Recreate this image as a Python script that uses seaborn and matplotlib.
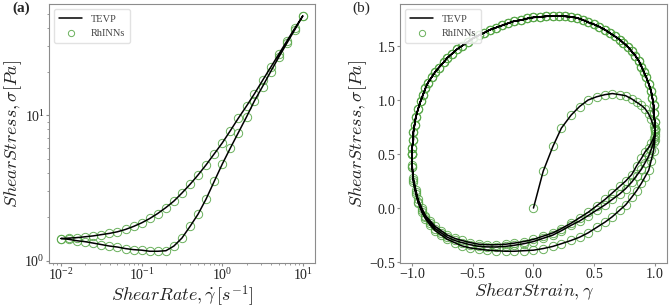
import matplotlib
matplotlib.use("Agg")
import pandas as pd
import seaborn as sns
import matplotlib.pyplot as plt

# ---- (a) flow curve, up-sweep then down-sweep ----
rate = [0.01, 0.0126, 0.0158, 0.02, 0.0251, 0.0316, 0.0398, 0.0501, 0.0631, 0.0794,
        0.1, 0.126, 0.158, 0.2, 0.251, 0.316, 0.398, 0.501, 0.631, 0.794,
        1.0, 1.26, 1.58, 2.0, 2.51, 3.16, 3.98, 5.01, 6.31, 7.94, 10.0]
stress_up = [1.42, 1.40, 1.37, 1.35, 1.32, 1.29, 1.26, 1.24, 1.21, 1.19,
             1.18, 1.16, 1.16, 1.17, 1.26, 1.43, 1.72, 2.09, 2.66, 3.51,
             4.62, 5.96, 7.59, 9.77, 12.6, 15.8, 20.0, 25.1, 31.3, 38.9, 48.5]
stress_down = [1.42, 1.43, 1.44, 1.46, 1.48, 1.51, 1.54, 1.58, 1.64, 1.72,
               1.82, 1.95, 2.11, 2.32, 2.57, 2.92, 3.35, 3.89, 4.57, 5.43,
               6.46, 7.85, 9.55, 11.6, 14.1, 17.4, 21.4, 26.3, 32.4, 39.8, 48.5]

# ---- (b) LAOS stress-strain loop ----
rise_strain = [0.00, 0.08, 0.16, 0.23, 0.31, 0.38, 0.45, 0.52, 0.59, 0.65, 0.71,
               0.76, 0.81, 0.85, 0.89, 0.92, 0.95, 0.97, 0.99, 1.00, 1.00]
rise_stress = [0.00, 0.34, 0.57, 0.74, 0.86, 0.94, 1.00, 1.03, 1.05, 1.06, 1.05,
               1.04, 1.01, 0.98, 0.95, 0.92, 0.87, 0.82, 0.76, 0.73, 0.71]

down_strain = [1.00, 1.00, 0.99, 0.97, 0.95, 0.92, 0.89, 0.85, 0.81, 0.76, 0.71,
               0.65, 0.59, 0.52, 0.45, 0.38, 0.31, 0.23, 0.16, 0.08, 0.00,
               -0.08, -0.16, -0.23, -0.31, -0.38, -0.45, -0.52, -0.59, -0.65, -0.71,
               -0.76, -0.81, -0.85, -0.89, -0.92, -0.95, -0.97, -0.99, -1.00, -1.00]
outer_stress = [0.71, 0.63, 0.53, 0.44, 0.35, 0.29, 0.23, 0.16, 0.10, 0.03, -0.02,
                -0.08, -0.13, -0.18, -0.23, -0.27, -0.30, -0.33, -0.355, -0.375, -0.39,
                -0.395, -0.40, -0.40, -0.395, -0.39, -0.38, -0.37, -0.35, -0.32, -0.29,
                -0.25, -0.21, -0.16, -0.10, -0.04, 0.05, 0.13, 0.24, 0.38, 0.50]
middle_stress = [0.73, 0.67, 0.61, 0.54, 0.48, 0.42, 0.36, 0.30, 0.24, 0.18, 0.13,
                 0.08, 0.03, -0.02, -0.07, -0.12, -0.16, -0.21, -0.25, -0.28, -0.31,
                 -0.33, -0.345, -0.355, -0.36, -0.36, -0.355, -0.34, -0.32, -0.30, -0.27,
                 -0.23, -0.19, -0.14, -0.08, -0.02, 0.06, 0.15, 0.26, 0.38, 0.50]
inner_stress = [0.73, 0.69, 0.65, 0.60, 0.56, 0.52, 0.46, 0.39, 0.31, 0.25, 0.20,
                0.14, 0.08, 0.02, -0.04, -0.09, -0.14, -0.19, -0.23, -0.26, -0.29,
                -0.31, -0.325, -0.335, -0.34, -0.34, -0.335, -0.32, -0.30, -0.28, -0.25,
                -0.21, -0.17, -0.12, -0.07, 0.00, 0.08, 0.17, 0.28, 0.40, 0.50]

top_strain = [-1.00, -1.00, -0.99, -0.99, -0.98, -0.97, -0.95, -0.93, -0.91, -0.89,
              -0.87, -0.84, -0.81, -0.78, -0.74, -0.71, -0.67, -0.63, -0.59, -0.54,
              -0.50, -0.45, -0.41, -0.36, -0.31, -0.26, -0.21, -0.16, -0.10, -0.05,
              0.00, 0.05, 0.10, 0.16, 0.21, 0.26, 0.31, 0.36, 0.41, 0.45,
              0.50, 0.54, 0.59, 0.63, 0.67, 0.71, 0.74, 0.78, 0.81, 0.84,
              0.87, 0.89, 0.91, 0.93, 0.95, 0.97, 0.98, 0.99, 0.99, 1.00, 1.00]
top_stress = [0.50, 0.56, 0.63, 0.70, 0.77, 0.84, 0.92, 0.99, 1.05, 1.11,
              1.16, 1.21, 1.26, 1.30, 1.35, 1.39, 1.43, 1.47, 1.50, 1.54,
              1.57, 1.60, 1.62, 1.65, 1.67, 1.69, 1.71, 1.73, 1.74, 1.755,
              1.765, 1.77, 1.775, 1.78, 1.78, 1.775, 1.77, 1.76, 1.74, 1.72,
              1.70, 1.68, 1.65, 1.62, 1.59, 1.56, 1.53, 1.49, 1.45, 1.41,
              1.36, 1.31, 1.26, 1.21, 1.15, 1.08, 1.02, 0.95, 0.88, 0.80, 0.73]

GREEN = "#5aa84a"

flow = pd.DataFrame({"rate": rate + rate[::-1],
                     "stress": stress_up + stress_down[::-1]})

segments = [(rise_strain, rise_stress), (down_strain, outer_stress),
            (top_strain, top_stress), (down_strain, middle_stress),
            (top_strain, top_stress), (down_strain, inner_stress),
            (top_strain, top_stress)]
laos = pd.DataFrame({"strain": [v for s, _ in segments for v in s],
                     "stress": [v for _, s in segments for v in s]})

sns.set_style("ticks")
plt.rcParams.update({
    "font.family": ["Liberation Serif", "DejaVu Serif"],
    "mathtext.fontset": "cm",
    "axes.formatter.use_mathtext": True,
    "axes.edgecolor": "#8c8c8c",
    "axes.linewidth": 0.8,
    "axes.labelpad": 0.5,
    "xtick.color": "#8c8c8c",
    "ytick.color": "#8c8c8c",
    "xtick.labelcolor": "#222222",
    "ytick.labelcolor": "#222222",
    "xtick.labelsize": 10,
    "ytick.labelsize": 10,
    "xtick.major.size": 2,
    "ytick.major.size": 2,
    "xtick.minor.size": 1.2,
    "ytick.minor.size": 1.2,
    "xtick.major.pad": 1,
    "ytick.major.pad": 1,
})

fig = plt.figure(figsize=(6.69, 3.08), dpi=100)
ax1 = fig.add_axes([0.0732, 0.146, 0.3976, 0.841])
ax2 = fig.add_axes([0.5979, 0.146, 0.3990, 0.841])


def draw(ax, df, x, y):
    sns.lineplot(data=df, x=x, y=y, sort=False, estimator=None, color="black",
                 lw=1.1, label="TEVP", ax=ax, zorder=3)
    sns.lineplot(data=df, x=x, y=y, sort=False, estimator=None, marker="o",
                 linestyle="", markersize=6, markerfacecolor="none",
                 markeredgecolor=GREEN, markeredgewidth=0.7, alpha=0.9,
                 label="RhINNs", ax=ax, zorder=2)
    leg = ax.legend(loc="upper left", fontsize=7.5, frameon=True, fancybox=True,
                    edgecolor="#dddddd", framealpha=0.85, markerscale=0.75,
                    handlelength=2.2, borderpad=0.5, labelspacing=0.5)
    for t in leg.get_texts():
        t.set_color("#444444")


ax1.set_xscale("log")
ax1.set_yscale("log")
draw(ax1, flow, "rate", "stress")
ax1.set_xlabel(r"$Shear Rate, \dot{\gamma}\,[s^{-1}]$", fontsize=13, color="#222222")
ax1.set_ylabel(r"$Shear Stress, \sigma[Pa]$", fontsize=13, color="#222222")

draw(ax2, laos, "strain", "stress")
ax2.set_xlabel(r"$Shear Strain, \gamma$", fontsize=13, color="#222222")
ax2.set_ylabel(r"$Shear Stress, \sigma[Pa]$", fontsize=13, color="#222222")

fig.text(0.018, 0.995, "(a)", fontsize=11, fontweight="bold", va="top")
fig.text(0.526, 0.995, "(b)", fontsize=11, va="top")

fig.savefig("out.png", dpi=100)
